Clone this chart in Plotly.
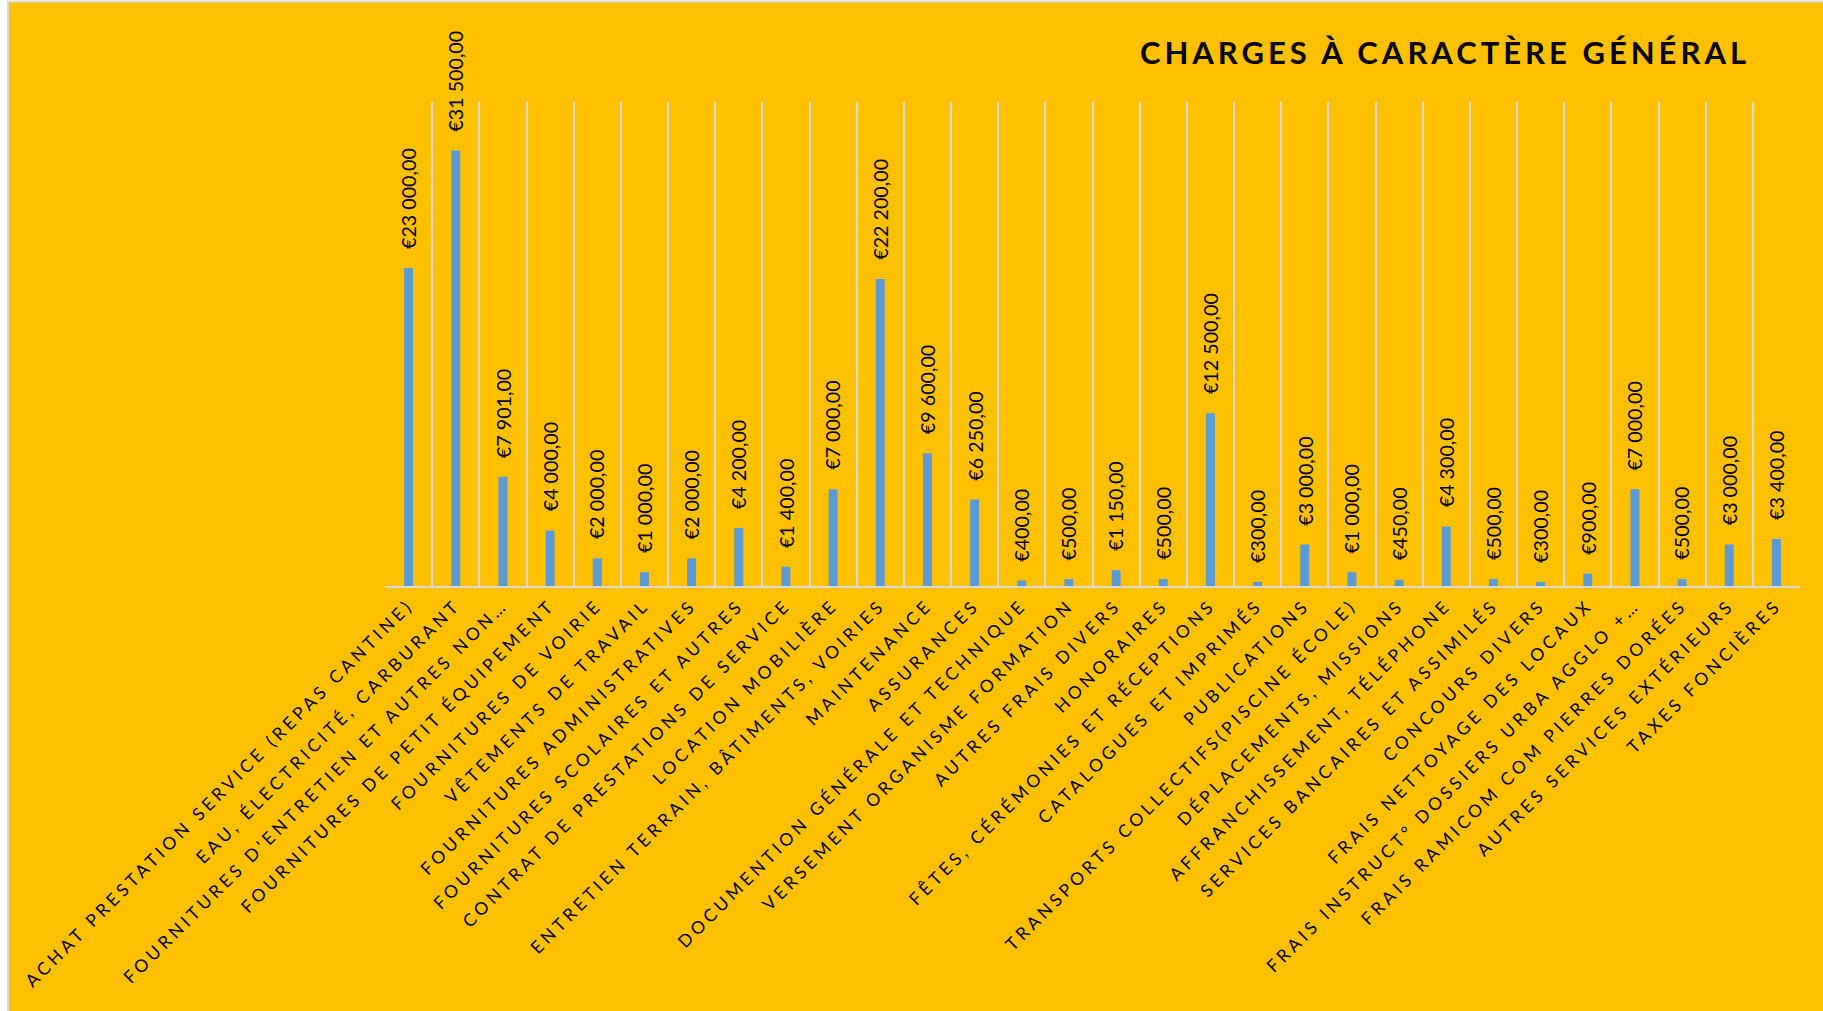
import plotly.graph_objects as go

categories = [
    "ACHAT PRESTATION SERVICE (REPAS CANTINE)",
    "EAU, ÉLECTRICITÉ, CARBURANT",
    "FOURNITURES D'ENTRETIEN ET AUTRES NON…",
    "FOURNITURES DE PETIT ÉQUIPEMENT",
    "FOURNITURES DE VOIRIE",
    "VÊTEMENTS DE TRAVAIL",
    "FOURNITURES ADMINISTRATIVES",
    "FOURNITURES SCOLAIRES ET AUTRES",
    "CONTRAT DE PRESTATIONS DE SERVICE",
    "LOCATION MOBILIÈRE",
    "ENTRETIEN TERRAIN, BÂTIMENTS, VOIRIES",
    "MAINTENANCE",
    "ASSURANCES",
    "DOCUMENTION GÉNÉRALE ET TECHNIQUE",
    "VERSEMENT ORGANISME FORMATION",
    "AUTRES FRAIS DIVERS",
    "HONORAIRES",
    "FÊTES, CÉRÉMONIES ET RÉCEPTIONS",
    "CATALOGUES ET IMPRIMÉS",
    "PUBLICATIONS",
    "TRANSPORTS COLLECTIFS(PISCINE ÉCOLE)",
    "DÉPLACEMENTS, MISSIONS",
    "AFFRANCHISSEMENT, TÉLÉPHONE",
    "SERVICES BANCAIRES ET ASSIMILÉS",
    "CONCOURS DIVERS",
    "FRAIS NETTOYAGE DES LOCAUX",
    "FRAIS INSTRUCT° DOSSIERS URBA AGGLO +…",
    "FRAIS RAMICOM COM PIERRES DORÉES",
    "AUTRES SERVICES EXTÉRIEURS",
    "TAXES FONCIÈRES",
]

values = [
    23000, 31500, 7901, 4000, 2000, 1000, 2000, 4200, 1400, 7000,
    22200, 9600, 6250, 400, 500, 1150, 500, 12500, 300, 3000,
    1000, 450, 4300, 500, 300, 900, 7000, 500, 3000, 3400,
]

title_text = "CHARGES À CARACTÈRE GÉNÉRAL"


def euro(v):
    s = f"{v:,.2f}"
    s = s.replace(",", " ").replace(".", ",")
    return "€" + s


labels = [euro(v) for v in values]

W, H = 1823, 1011
L, R, T, B = 385, 23, 102, 425
pw = W - L - R
ph = H - T - B


def px_x(p):
    return (p - L) / pw


def px_y(p):
    return (H - B - p) / ph


ORANGE = "#FFC000"
GRID = "#D9D9D9"
BLUE = "#5B9BD5"
FONT = "Lato, 'Open Sans', sans-serif"

fig = go.Figure()
fig.add_trace(go.Bar(
    x=categories, y=values, marker_color=BLUE, marker_line_width=0,
    hoverinfo="x+y",
))

annotations = []
for c, v, t in zip(categories, values, labels):
    annotations.append(dict(
        x=c, y=v, xref="x", yref="y", text=t, showarrow=False,
        textangle=-90, xanchor="center", yanchor="bottom", yshift=18,
        borderpad=0,
        font=dict(family=FONT, size=19.7, color="#000000"),
    ))

fig.update_layout(
    width=W, height=H,
    margin=dict(l=L, r=R, t=T, b=B, autoexpand=False),
    paper_bgcolor="#FFFFFF",
    plot_bgcolor="rgba(0,0,0,0)",
    showlegend=False,
    bargap=0.81,
    title=dict(
        text=title_text, xref="container", yref="container",
        x=1445 / W, y=1 - 53 / H, xanchor="center", yanchor="middle",
        font=dict(family=FONT, size=31, color="#000000", weight="bold"),
    ),
    xaxis=dict(
        type="category", tickson="boundaries", showgrid=True, gridcolor=GRID, gridwidth=2,
        showline=True, linecolor=GRID, linewidth=2, ticks="", tickangle=-45,
        tickfont=dict(family=FONT, size=17.5, color="#000000"),
        range=[-0.5, len(categories) - 0.5], automargin=False,
    ),
    yaxis=dict(
        range=[0, 35000], showgrid=False, showticklabels=False, zeroline=False,
        showline=False, ticks="", automargin=False,
    ),
    annotations=annotations,
    shapes=[
        dict(type="rect", xref="paper", yref="paper", layer="below",
             x0=px_x(8), x1=px_x(W + 20), y0=px_y(H + 20), y1=px_y(1.5),
             fillcolor=ORANGE, line=dict(color=GRID, width=2)),
    ],
)

js = """
document.body.style.margin='0';
document.body.style.overflow='hidden';
var gd = document.getElementById('{plot_id}');
function sp(){
  gd.querySelectorAll('.xtick text').forEach(function(t){ t.style.letterSpacing='3.9px'; });
  gd.querySelectorAll('.gtitle').forEach(function(t){ t.style.letterSpacing='4px'; });
}
sp();
gd.on('plotly_afterplot', sp);
"""

fig.write_html("out.html", post_script=js, config={"displayModeBar": False})
